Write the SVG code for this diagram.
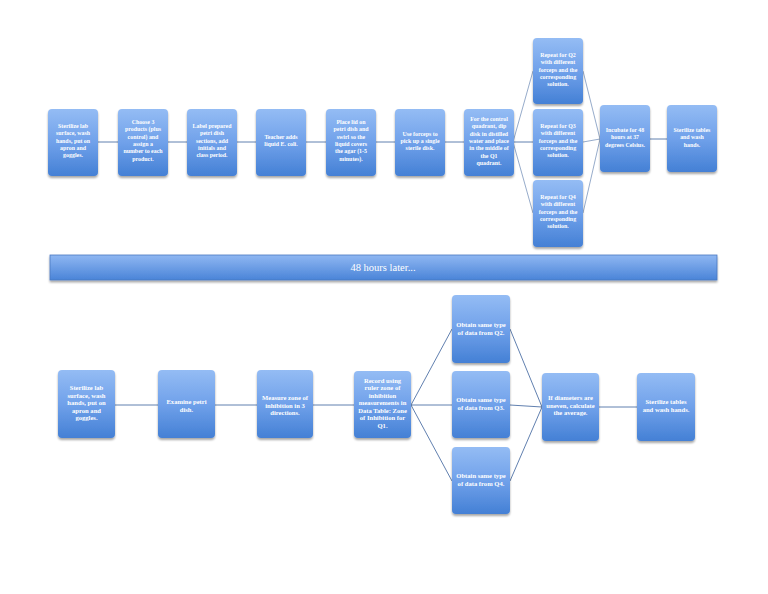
<svg xmlns="http://www.w3.org/2000/svg" width="768" height="594" viewBox="0 0 768 594">
<defs>
<linearGradient id="g" x1="0" y1="0" x2="0" y2="1">
<stop offset="0" stop-color="#94bcf4"/>
<stop offset="0.5" stop-color="#70a1ea"/>
<stop offset="1" stop-color="#4480d5"/>
</linearGradient>
<linearGradient id="gb" x1="0" y1="0" x2="0" y2="1">
<stop offset="0" stop-color="#8fb7f2"/>
<stop offset="1" stop-color="#4a84d8"/>
</linearGradient>
<filter id="sh" x="-20%" y="-20%" width="140%" height="140%">
<feGaussianBlur in="SourceAlpha" stdDeviation="1.2"/>
<feOffset dx="0" dy="1.5" result="b"/>
<feComponentTransfer><feFuncA type="linear" slope="0.35"/></feComponentTransfer>
<feMerge><feMergeNode/><feMergeNode in="SourceGraphic"/></feMerge>
</filter>
</defs>
<style>
.box{fill:url(#g);filter:url(#sh);}
.t{font-family:"Liberation Serif","DejaVu Serif",serif;font-weight:bold;fill:#ffffff;text-anchor:middle;font-size:5.9px;}
.b{font-size:6.6px;}
.c{stroke:#4f72a6;stroke-width:0.9;fill:none;}
.c2{stroke:#4f72a6;stroke-width:0.6;fill:none;}
</style>
<rect width="768" height="594" fill="#ffffff"/>

<g id="connectors">
<path class="c" d="M98 142H118M167 142H187M237 142H256M306 142H326M375 142H395M445 142H464M513 142H533M650 139H667"/>
<path class="c2" d="M513 142L533 71M513 142L533 213M583 71L600 139M583 142L600 139M583 213L600 139"/>
<path class="c" d="M115 405H158M214 405H257M313 405H354M411 405H452M599 407H637"/>
<path class="c" d="M411 405L452 329M411 405L452 481M510 329L542 407M510 405L542 407M510 481L542 407"/>
</g>

<g id="t1"><rect class="box" x="48" y="109" width="50" height="67" rx="4"/>
<text class="t" x="73"><tspan x="73" y="128">Sterilize lab</tspan><tspan x="73" y="135.3">surface, wash</tspan><tspan x="73" y="142.6">hands, put on</tspan><tspan x="73" y="149.9">apron and</tspan><tspan x="73" y="157.2">goggles.</tspan></text></g>

<g id="t2"><rect class="box" x="118" y="109" width="50" height="67" rx="4"/>
<text class="t"><tspan x="143" y="124">Choose 3</tspan><tspan x="143" y="131.3">products (plus</tspan><tspan x="143" y="138.6">control) and</tspan><tspan x="143" y="145.9">assign a</tspan><tspan x="143" y="153.2">number to each</tspan><tspan x="143" y="160.5">product.</tspan></text></g>

<g id="t3"><rect class="box" x="187" y="109" width="50" height="67" rx="4"/>
<text class="t"><tspan x="212" y="128">Label prepared</tspan><tspan x="212" y="135.3">petri dish</tspan><tspan x="212" y="142.6">sections, add</tspan><tspan x="212" y="149.9">initials and</tspan><tspan x="212" y="157.2">class period.</tspan></text></g>

<g id="t4"><rect class="box" x="256" y="109" width="50" height="67" rx="4"/>
<text class="t"><tspan x="281" y="139">Teacher adds</tspan><tspan x="281" y="146.3">liquid E. coli.</tspan></text></g>

<g id="t5"><rect class="box" x="326" y="109" width="50" height="67" rx="4"/>
<text class="t"><tspan x="351" y="124">Place lid on</tspan><tspan x="351" y="131.3">petri dish and</tspan><tspan x="351" y="138.6">swirl so the</tspan><tspan x="351" y="145.9">liquid covers</tspan><tspan x="351" y="153.2">the agar (1-5</tspan><tspan x="351" y="160.5">minutes).</tspan></text></g>

<g id="t6"><rect class="box" x="395" y="109" width="50" height="67" rx="4"/>
<text class="t"><tspan x="420" y="135.5">Use forceps to</tspan><tspan x="420" y="142.8">pick up a single</tspan><tspan x="420" y="150.1">sterile disk.</tspan></text></g>

<g id="t7"><rect class="box" x="464" y="109" width="50" height="67" rx="4"/>
<text class="t"><tspan x="489" y="121">For the control</tspan><tspan x="489" y="128.3">quadrant, dip</tspan><tspan x="489" y="135.6">disk in distilled</tspan><tspan x="489" y="142.9">water and place</tspan><tspan x="489" y="150.2">in the middle of</tspan><tspan x="489" y="157.5">the Q1</tspan><tspan x="489" y="164.8">quadrant.</tspan></text></g>

<g id="tq2"><rect class="box" x="533" y="38" width="50" height="66" rx="4"/>
<text class="t"><tspan x="558" y="57">Repeat for Q2</tspan><tspan x="558" y="64.3">with different</tspan><tspan x="558" y="71.6">forceps and the</tspan><tspan x="558" y="78.9">corresponding</tspan><tspan x="558" y="86.2">solution.</tspan></text></g>

<g id="tq3"><rect class="box" x="533" y="109" width="50" height="67" rx="4"/>
<text class="t"><tspan x="558" y="128">Repeat for Q3</tspan><tspan x="558" y="135.3">with different</tspan><tspan x="558" y="142.6">forceps and the</tspan><tspan x="558" y="149.9">corresponding</tspan><tspan x="558" y="157.2">solution.</tspan></text></g>

<g id="tq4"><rect class="box" x="533" y="180" width="50" height="67" rx="4"/>
<text class="t"><tspan x="558" y="199">Repeat for Q4</tspan><tspan x="558" y="206.3">with different</tspan><tspan x="558" y="213.6">forceps and the</tspan><tspan x="558" y="220.9">corresponding</tspan><tspan x="558" y="228.2">solution.</tspan></text></g>

<g id="t8"><rect class="box" x="600" y="105" width="50" height="67" rx="4"/>
<text class="t"><tspan x="625" y="132">Incubate for 48</tspan><tspan x="625" y="139.3">hours at 37</tspan><tspan x="625" y="146.6">degrees Celsius.</tspan></text></g>

<g id="t9"><rect class="box" x="667" y="105" width="50" height="67" rx="4"/>
<text class="t"><tspan x="692" y="132">Sterilize tables</tspan><tspan x="692" y="139.3">and wash</tspan><tspan x="692" y="146.6">hands.</tspan></text></g>

<g id="banner"><rect x="50" y="255" width="667" height="25" fill="url(#gb)" stroke="#4a78c0" stroke-width="0.8" filter="url(#sh)"/>
<text x="383" y="271" font-family="Liberation Serif, DejaVu Serif, serif" font-size="10.5" fill="#ffffff" text-anchor="middle">48 hours later...</text></g>

<g id="b1"><rect class="box" x="58" y="370" width="57" height="68" rx="4"/>
<text class="t b"><tspan x="86.5" y="390">Sterilize lab</tspan><tspan x="86.5" y="397.5">surface, wash</tspan><tspan x="86.5" y="405">hands, put on</tspan><tspan x="86.5" y="412.5">apron and</tspan><tspan x="86.5" y="420">goggles.</tspan></text></g>

<g id="b2"><rect class="box" x="158" y="370" width="57" height="68" rx="4"/>
<text class="t b"><tspan x="186.5" y="404">Examine petri</tspan><tspan x="186.5" y="411.5">dish.</tspan></text></g>

<g id="b3"><rect class="box" x="257" y="370" width="56" height="68" rx="4"/>
<text class="t b"><tspan x="285" y="400">Measure zone of</tspan><tspan x="285" y="407.5">inhibition in 3</tspan><tspan x="285" y="415">directions.</tspan></text></g>

<g id="b4"><rect class="box" x="354" y="371" width="57" height="67" rx="4"/>
<text class="t b"><tspan x="382.5" y="382.5">Record using</tspan><tspan x="382.5" y="390">ruler zone of</tspan><tspan x="382.5" y="397.5">inhibition</tspan><tspan x="382.5" y="405">measurements in</tspan><tspan x="382.5" y="412.5">Data Table: Zone</tspan><tspan x="382.5" y="420">of Inhibition for</tspan><tspan x="382.5" y="427.5">Q1.</tspan></text></g>

<g id="bq2"><rect class="box" x="452" y="295" width="58" height="68" rx="4"/>
<text class="t b"><tspan x="481" y="327">Obtain same type</tspan><tspan x="481" y="334.5">of data from Q2.</tspan></text></g>

<g id="bq3"><rect class="box" x="452" y="371" width="58" height="67" rx="4"/>
<text class="t b"><tspan x="481" y="402">Obtain same type</tspan><tspan x="481" y="409.5">of data from Q3.</tspan></text></g>

<g id="bq4"><rect class="box" x="452" y="447" width="58" height="67" rx="4"/>
<text class="t b"><tspan x="481" y="478">Obtain same type</tspan><tspan x="481" y="485.5">of data from Q4.</tspan></text></g>

<g id="b5"><rect class="box" x="542" y="373" width="57" height="68" rx="4"/>
<text class="t b"><tspan x="570.5" y="400">If diameters are</tspan><tspan x="570.5" y="407.5">uneven, calculate</tspan><tspan x="570.5" y="415">the average.</tspan></text></g>

<g id="b6"><rect class="box" x="637" y="373" width="58" height="68" rx="4"/>
<text class="t b"><tspan x="666" y="404">Sterilize tables</tspan><tspan x="666" y="411.5">and wash hands.</tspan></text></g>
</svg>
